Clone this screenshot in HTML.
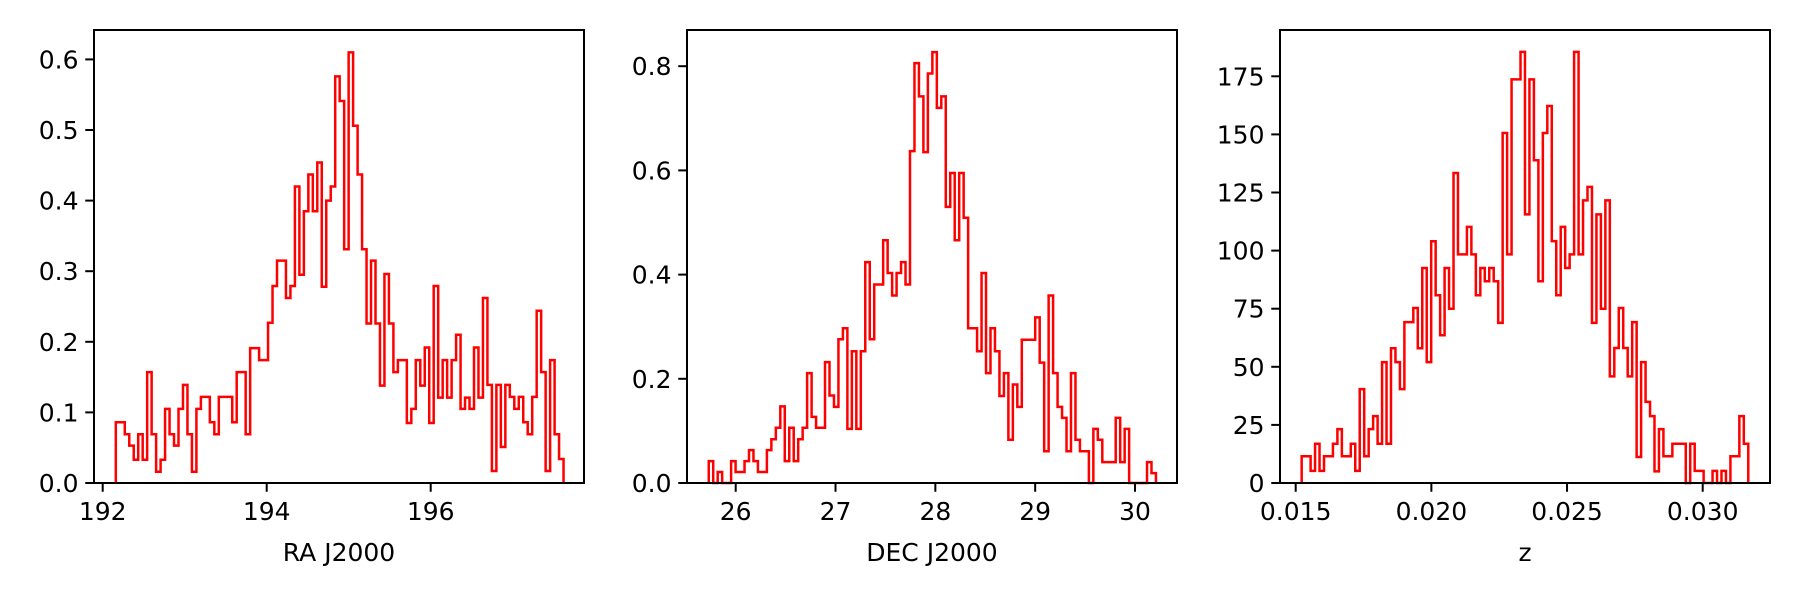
<!DOCTYPE html>
<html><head><meta charset="utf-8"><style>
html,body{margin:0;padding:0;background:#fff;}
svg{display:block;}
text{font-family:"DejaVu Sans","Liberation Sans",sans-serif;font-size:25px;fill:#000;}
</style></head><body>
<svg id="fig" width="1800" height="600" viewBox="0 0 1800 600" xmlns="http://www.w3.org/2000/svg"></svg>
<script>
// ---- data ----
const raEdges = [192.16, 197.62];
const raValues = [0.086,0.086,0.069,0.053,0.033,0.069,0.033,0.157,0.069,0.016,
0.033,0.105,0.069,0.053,0.105,0.139,0.069,0.016,0.105,0.122,
0.122,0.086,0.069,0.122,0.122,0.122,0.086,0.157,0.157,0.069,
0.191,0.191,0.174,0.174,0.227,0.279,0.315,0.315,0.262,0.279,
0.42,0.295,0.385,0.437,0.385,0.454,0.278,0.40,0.42,0.576,
0.541,0.331,0.61,0.506,0.437,0.331,0.226,0.315,0.226,0.138,
0.296,0.226,0.157,0.174,0.174,0.085,0.105,0.174,0.138,0.192,
0.085,0.279,0.121,0.174,0.121,0.174,0.21,0.105,0.121,0.105,
0.192,0.121,0.262,0.139,0.017,0.139,0.051,0.139,0.122,0.105,
0.122,0.086,0.069,0.122,0.244,0.157,0.017,0.174,0.069,0.034];
const raXTicks = [192,194,196];
const raXTickLabels = ["192","194","196"];
const raYTicks = [0,0.1,0.2,0.3,0.4,0.5,0.6];
const raYTickLabels = ["0.0","0.1","0.2","0.3","0.4","0.5","0.6"];

const decEdges = [25.73, 30.21];
const decValues = [0.042,0,0.021,0,0,0.042,0.021,0.021,0.042,0.063,
0.042,0.021,0.021,0.063,0.084,0.106,0.147,0.042,0.106,0.042,
0.084,0.106,0.211,0.127,0.106,0.106,0.232,0.168,0.146,0.276,
0.297,0.104,0.253,0.104,0.253,0.424,0.276,0.381,0.381,0.466,
0.403,0.36,0.403,0.424,0.381,0.637,0.806,0.742,0.635,0.786,
0.827,0.72,0.742,0.53,0.595,0.466,0.595,0.509,0.297,0.297,
0.253,0.403,0.211,0.297,0.253,0.167,0.211,0.083,0.189,0.146,
0.275,0.275,0.275,0.318,0.231,0.061,0.36,0.211,0.146,0.125,
0.061,0.211,0.083,0.061,0.061,0,0.104,0.083,0.040,0.040,
0.040,0.125,0.040,0.104,0,0,0,0,0.040,0.019];
const decXTicks = [26,27,28,29,30];
const decXTickLabels = ["26","27","28","29","30"];
const decYTicks = [0,0.2,0.4,0.6,0.8];
const decYTickLabels = ["0.0","0.2","0.4","0.6","0.8"];

const zEdges = [0.01522, 0.03168];
const zValues = [11.5,11.5,5.2,16.9,5.2,11.5,11.5,16.9,23.2,11.5,
11.5,16.9,5.2,40.4,11.5,23.2,28.8,16.9,52,16.9,
58,52,40.4,69.2,69.2,75.3,58,92.5,52,104,
80.8,63.6,92.5,75,133.4,98.4,98.4,110.2,98.4,80.8,
92.5,86.8,92.5,86.8,68.9,150.6,98.4,173.7,173.7,185.5,
115.6,173.7,138.9,86.8,150.6,162.2,104.1,80.8,110.2,92.5,
98.4,185.5,98.4,121.6,127.4,68.9,115.6,75,121.6,45.9,
58.1,75.3,58.1,45.9,69.2,11.2,52,34.9,28.8,5,
23.2,11.5,11.5,16.9,16.9,16.9,0,16.9,5.2,5.2,
0,0,5.2,0,5.2,0,11.5,11.5,28.8,16.9];
const zXTicks = [0.015,0.020,0.025,0.030];
const zXTickLabels = ["0.015","0.020","0.025","0.030"];
const zYTicks = [0,25,50,75,100,125,150,175];
const zYTickLabels = ["0","25","50","75","100","125","150","175"];

// ---- drawing ----
const NS = "http://www.w3.org/2000/svg";
const fig = document.getElementById('fig');
function mk(tag, attrs, parent){
  const e = document.createElementNS(NS, tag);
  for (const k in attrs) e.setAttribute(k, attrs[k]);
  (parent||fig).appendChild(e);
  return e;
}
const TOP = 30, BOT = 483;

function panel(key, left, right, xv0, xp0, xv1, xp1, yPerUnit, edges, values, xt, xtl, yt, ytl, xlabel){
  const g = mk('g', {});
  
  
  const xs = v => xp0 + (v - xv0) * (xp1 - xp0) / (xv1 - xv0);
  const ys = v => BOT - v * yPerUnit;
  const n = values.length;
  const w = (edges[1] - edges[0]) / n;
  let d = 'M' + xs(edges[0]).toFixed(2) + ',' + ys(0).toFixed(2);
  for (let i = 0; i < n; i++) {
    const x0 = xs(edges[0] + i * w), x1 = xs(edges[0] + (i + 1) * w), y = ys(values[i]);
    d += ' L' + x0.toFixed(2) + ',' + y.toFixed(2) + ' L' + x1.toFixed(2) + ',' + y.toFixed(2);
  }
  d += ' L' + xs(edges[1]).toFixed(2) + ',' + ys(0).toFixed(2);
  const p = mk('path', {d: d, fill: 'none', stroke: '#ff0000', 'stroke-width': 2.5, 'stroke-linejoin': 'miter'}, g);
  
  
  const fr = mk('rect', {x: left, y: TOP, width: right - left, height: BOT - TOP, fill: 'none', stroke: '#000', 'stroke-width': 2}, g);
  
  
  xt.forEach((v, i) => {
    const x = xs(v);
    const t = mk('line', {x1: x, x2: x, y1: BOT, y2: BOT + 8.75, stroke: '#000', 'stroke-width': 2}, g);
    
    
    const tx = mk('text', {x: x, y: BOT + 37, 'text-anchor': 'middle'}, g);
    tx.textContent = xtl[i];
    
    
  });
  yt.forEach((v, i) => {
    const y = ys(v);
    const t = mk('line', {x1: left - 8.75, x2: left, y1: y, y2: y, stroke: '#000', 'stroke-width': 2}, g);
    
    
    const tx = mk('text', {x: left - 15.5, y: y + 9, 'text-anchor': 'end'}, g);
    tx.textContent = ytl[i];
    
    
  });
  const xl = mk('text', {x: (left + right) / 2, y: 561, 'text-anchor': 'middle'}, g);
  xl.textContent = xlabel;
  
  
}

panel('ra', 94, 584, 192, 102.7, 196, 430.7, 706, raEdges, raValues, raXTicks, raXTickLabels, raYTicks, raYTickLabels, 'RA J2000');
panel('dec', 687, 1177, 26, 735.7, 30, 1135, 521, decEdges, decValues, decXTicks, decXTickLabels, decYTicks, decYTickLabels, 'DEC J2000');
panel('z', 1280, 1770, 0.015, 1295.7, 0.030, 1702.7, 58.1/25, zEdges, zValues, zXTicks, zXTickLabels, zYTicks, zYTickLabels, 'z');
</script>
</body></html>
